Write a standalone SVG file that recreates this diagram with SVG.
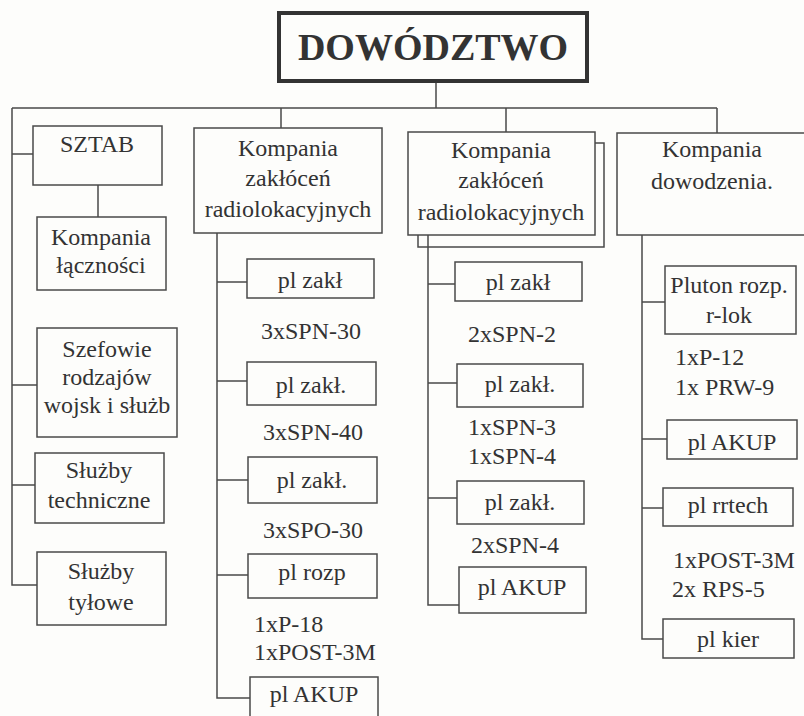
<svg xmlns="http://www.w3.org/2000/svg" width="804" height="716" viewBox="0 0 804 716">
<style>
.b{fill:none;stroke:#4a4a4a;stroke-width:1.5}
.c{fill:none;stroke:#4a4a4a;stroke-width:1.5}
.t{font-family:'Liberation Serif','Tinos','DejaVu Serif',serif;font-size:24px;fill:#333;text-anchor:middle}
.l{font-family:'Liberation Serif','Tinos','DejaVu Serif',serif;font-size:24px;fill:#333}
.h{font-family:'Liberation Serif','Tinos','DejaVu Serif',serif;font-size:38px;font-weight:bold;fill:#333;text-anchor:middle}
</style>
<rect x="0" y="0" width="804" height="716" fill="#fdfdfb"/>
<g id="connectors">
<path class="c" d="M436 82V108M12 108H717M281 108V128M506 108V132M717 108V133"/>
<path class="c" d="M12 108V585H37M12 154H33M12 385H37M12 485H35M98 185V217"/>
<path class="c" d="M217 233V698H250M217 282H247M217 381H247M217 480H248M217 575H248"/>
<path class="c" d="M428 235V605H459M428 284H455M428 383H457M428 498H457"/>
<path class="c" d="M642 235V639H663M642 302H665M642 439H667M642 508H663"/>
</g>
<g id="dowodztwo"><rect x="279" y="13" width="308" height="68" fill="none" stroke="#333" stroke-width="4"/><text class="h" x="433" y="60">DOWÓDZTWO</text></g>
<g id="sztab"><rect class="b" x="33" y="126" width="129" height="59"/><text class="t" x="97" y="152">SZTAB</text></g>
<g id="kompania-lacznosci"><rect class="b" x="37" y="217" width="129" height="73"/><text class="t" x="101" y="245">Kompania</text><text class="t" x="101" y="273">łączności</text></g>
<g id="szefowie"><rect class="b" x="37" y="328" width="140" height="109"/><text class="t" x="107" y="357">Szefowie</text><text class="t" x="107" y="385">rodzajów</text><text class="t" x="107" y="413">wojsk i służb</text></g>
<g id="sluzby-techniczne"><rect class="b" x="35" y="453" width="129" height="70"/><text class="t" x="99" y="478">Służby</text><text class="t" x="99" y="508">techniczne</text></g>
<g id="sluzby-tylowe"><rect class="b" x="37" y="552" width="129" height="73"/><text class="t" x="101" y="579">Służby</text><text class="t" x="101" y="610">tyłowe</text></g>
<g id="kompania-zaklocen-1"><rect class="b" x="194" y="128" width="188" height="105"/><text class="t" x="288" y="156">Kompania</text><text class="t" x="288" y="186">zakłóceń</text><text class="t" x="288" y="217">radiolokacyjnych</text></g>
<g id="k1-pl-zakl-1"><rect class="b" x="247" y="259" width="127" height="39"/><text class="t" x="310" y="288">pl zakł</text></g>
<text class="t" x="311" y="339">3xSPN-30</text>
<g id="k1-pl-zakl-2"><rect class="b" x="247" y="362" width="129" height="43"/><text class="t" x="311" y="393">pl zakł.</text></g>
<text class="t" x="313" y="440">3xSPN-40</text>
<g id="k1-pl-zakl-3"><rect class="b" x="248" y="457" width="129" height="46"/><text class="t" x="312" y="488">pl zakł.</text></g>
<text class="t" x="313" y="538">3xSPO-30</text>
<g id="k1-pl-rozp"><rect class="b" x="248" y="554" width="129" height="44"/><text class="t" x="312" y="580">pl rozp</text></g>
<text class="l" x="254" y="632">1xP-18</text>
<text class="l" x="254" y="660">1xPOST-3M</text>
<g id="k1-pl-akup"><rect class="b" x="250" y="677" width="128" height="50"/><text class="t" x="314" y="702">pl AKUP</text></g>
<g id="kompania-zaklocen-2"><path class="b" d="M595 143H604V247H418V235"/><rect class="b" x="408" y="132" width="187" height="103"/><text class="t" x="501" y="158">Kompania</text><text class="t" x="501" y="188">zakłóceń</text><text class="t" x="501" y="220">radiolokacyjnych</text></g>
<g id="k2-pl-zakl-1"><rect class="b" x="455" y="262" width="127" height="39"/><text class="t" x="518" y="290">pl zakł</text></g>
<text class="l" x="468" y="342">2xSPN-2</text>
<g id="k2-pl-zakl-2"><rect class="b" x="457" y="364" width="126" height="43"/><text class="t" x="520" y="392">pl zakł.</text></g>
<text class="l" x="468" y="435">1xSPN-3</text>
<text class="l" x="468" y="464">1xSPN-4</text>
<g id="k2-pl-zakl-3"><rect class="b" x="457" y="481" width="127" height="43"/><text class="t" x="520" y="510">pl zakł.</text></g>
<text class="l" x="471" y="553">2xSPN-4</text>
<g id="k2-pl-akup"><rect class="b" x="459" y="567" width="127" height="46"/><text class="t" x="522" y="595">pl AKUP</text></g>
<g id="kompania-dowodzenia"><rect class="b" x="617" y="133" width="200" height="102"/><text class="t" x="712" y="157">Kompania</text><text class="t" x="712" y="189">dowodzenia.</text></g>
<g id="pluton-rozp"><rect class="b" x="665" y="266" width="131" height="68"/><text class="t" x="729" y="293">Pluton rozp.</text><text class="t" x="729" y="323">r-lok</text></g>
<text class="l" x="675" y="365">1xP-12</text>
<text class="l" x="675" y="395">1x PRW-9</text>
<g id="k3-pl-akup"><rect class="b" x="667" y="420" width="130" height="39"/><text class="t" x="732" y="450">pl AKUP</text></g>
<g id="pl-rrtech"><rect class="b" x="663" y="488" width="130" height="38"/><text class="t" x="728" y="513">pl rrtech</text></g>
<text class="l" x="673" y="568">1xPOST-3M</text>
<text class="l" x="672" y="597">2x RPS-5</text>
<g id="pl-kier"><rect class="b" x="663" y="619" width="131" height="39"/><text class="t" x="728" y="647">pl kier</text></g>
</svg>
